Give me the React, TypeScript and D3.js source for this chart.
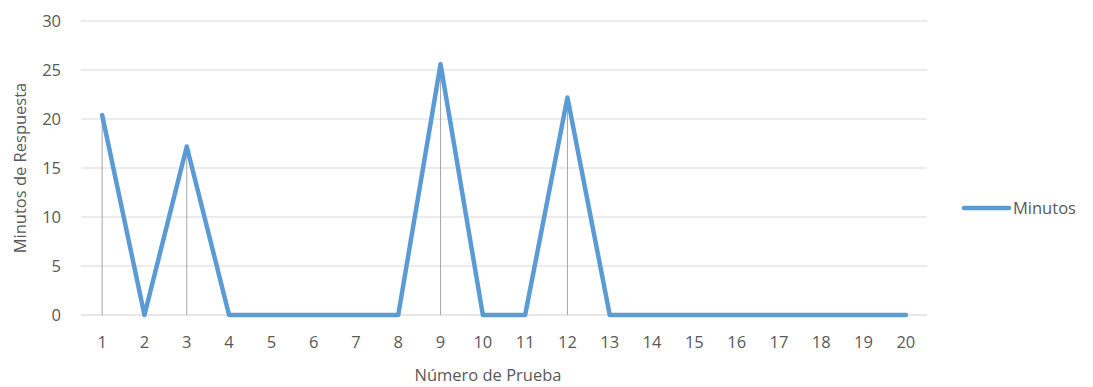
import React from "react";
import * as d3 from "d3";

const categories = ["1","2","3","4","5","6","7","8","9","10","11","12","13","14","15","16","17","18","19","20"];
const minutos = [20.4, 0, 17.2, 0, 0, 0, 0, 0, 25.6, 0, 0, 22.2, 0, 0, 0, 0, 0, 0, 0, 0];
const yTicks = [0, 5, 10, 15, 20, 25, 30];
const seriesName = "Minutos";
const xTitle = "Número de Prueba";
const yTitle = "Minutos de Respuesta";

const W = 1093, H = 387;
const left = 81, right = 927, top = 21, bottom = 315;
const font = "'Open Sans', sans-serif";
const fs = 16.5;
const textColor = "#595959";
const lineColor = "#5B9BD5";

export default function App() {
  const x = d3.scaleBand<string>().domain(categories).range([left, right]);
  const y = d3.scaleLinear().domain([0, 30]).range([bottom, top]);
  const cx = (c: string) => (x(c) as number) + x.bandwidth() / 2;
  const line = d3.line<number>().x((_, i) => cx(categories[i])).y((d) => y(d));
  return (
    <svg width={W} height={H} style={{ position: "absolute", left: 0, top: 0, background: "#fff" }}>
      {yTicks.map((t) => (
        <g key={t}>
          <line x1={left} x2={right} y1={y(t)} y2={y(t)} stroke={t === 0 ? "#d0d0d0" : "#d9d9d9"} strokeWidth={1} />
          <text x={61} y={y(t)} dy="0.35em" textAnchor="end" fontFamily={font} fontSize={fs} fill={textColor}>{t}</text>
        </g>
      ))}
      {minutos.map((v, i) => (
        <line key={i} x1={cx(categories[i])} x2={cx(categories[i])} y1={y(v)} y2={y(0)} stroke="#a6a6a6" strokeWidth={1} />
      ))}
      {categories.map((c) => (
        <text key={c} x={cx(c)} y={342} dy="0.35em" textAnchor="middle" fontFamily={font} fontSize={fs} fill={textColor}>{c}</text>
      ))}
      <path d={line(minutos) || ""} fill="none" stroke={lineColor} strokeWidth={4.5} strokeLinejoin="round" strokeLinecap="round" />
      <text x={488} y={375} dy="0.35em" textAnchor="middle" fontFamily={font} fontSize={fs} fill={textColor}>{xTitle}</text>
      <text transform={`translate(20,${168}) rotate(-90)`} dy="0.35em" textAnchor="middle" fontFamily={font} fontSize={fs} fill={textColor}>{yTitle}</text>
      <line x1={964} x2={1009} y1={208} y2={208} stroke={lineColor} strokeWidth={4.5} strokeLinecap="round" />
      <text x={1013} y={208} dy="0.35em" fontFamily={font} fontSize={fs} fill={textColor}>{seriesName}</text>
    </svg>
  );
}
